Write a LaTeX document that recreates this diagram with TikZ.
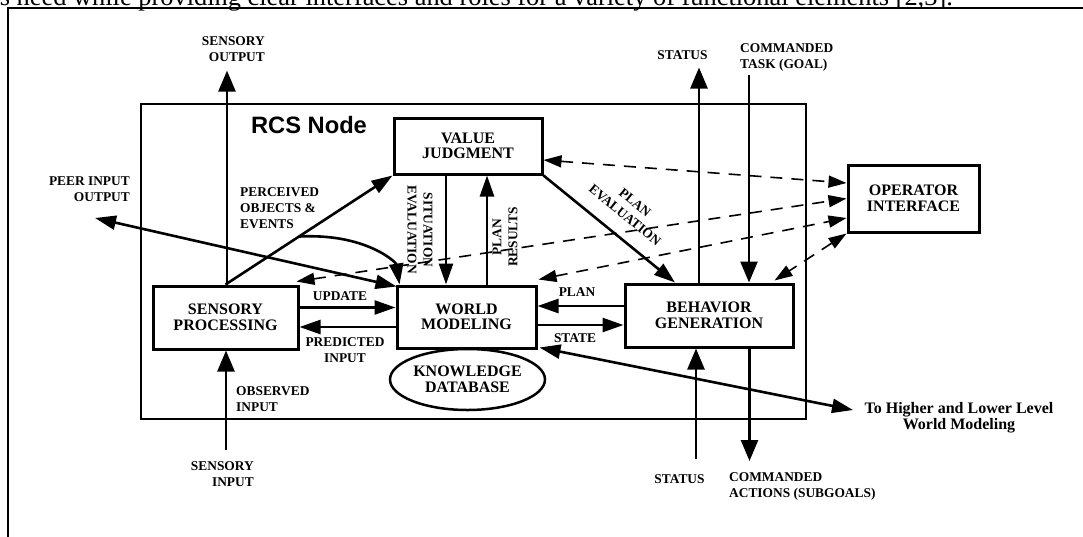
\documentclass[tikz,border=0pt]{standalone}
\usepackage{fontspec}
\setmainfont{Liberation Serif}
\newfontfamily\arialfont{Liberation Sans}
\usetikzlibrary{arrows.meta,shapes.geometric,calc}
\newcommand\boxfnt{\bfseries\fontsize{16}{15.5}\selectfont}
\newcommand\lblfnt{\bfseries\fontsize{13.4}{16}\selectfont}
\tikzset{
  box/.style={draw, line width=3pt, fill=white, align=center, font=\boxfnt, inner sep=0pt},
  lbl/.style={inner sep=0pt, font=\lblfnt},
  bigtip/.tip={Triangle[length=21pt,width=17pt]},
  medtip/.tip={Triangle[length=21pt,width=14pt]},
  smalltip/.tip={Triangle[length=18pt,width=12pt]},
  extarr/.style={line width=2.6pt, -bigtip},
  arr/.style={line width=2.6pt, -medtip},
  darr/.style={line width=2.6pt, medtip-medtip},
  dsh/.style={line width=1.6pt, dash pattern=on 12pt off 9pt, smalltip-smalltip}
}
\begin{document}
\begin{tikzpicture}[x=1pt,y=-1pt]
\useasboundingbox (0,0) rectangle (1083,536);
\clip (0,0) rectangle (1083,536);
% page text cut at top
\node[anchor=base east, inner sep=0pt, font=\fontsize{26.4}{29}\selectfont] (toptext) at (953,5) {s need while providing clear interfaces and roles for a variety of functional elements [2,3].};
% outer frame
\draw[line width=2pt] (8,540) -- (8,7.8) -- (1090,7.8);
% RCS node frame
\draw[line width=1.2pt] (141,104) rectangle (806,419);
\node[inner sep=0pt, font=\arialfont\bfseries\fontsize{23.7}{26}\selectfont] (rcs) at (309,125) {RCS Node};

% boxes
\node[box, minimum width=145pt, minimum height=63pt] (SP) at (225.5,317.5) {SENSORY\\PROCESSING};
\node[box, minimum width=139pt, minimum height=62pt] (WM) at (466.5,317) {WORLD\\MODELING};
\node[box, minimum width=148pt, minimum height=56pt] (VJ) at (468,146) {VALUE\\JUDGMENT};
\node[box, minimum width=131pt, minimum height=67pt] (OI) at (913.5,198.5) {OPERATOR\\INTERFACE};
\node[box, minimum width=168pt, minimum height=63pt] (BG) at (709,315.5) {BEHAVIOR\\GENERATION};
\node[box, ellipse, line width=2.5pt, minimum width=155pt, minimum height=61pt] (KD) at (467.5,379.5) {KNOWLEDGE\\DATABASE};

% coordinates for free ends
\coordinate (soTip) at (227,70.6);
\coordinate (stTop) at (699,67.5);
\coordinate (ctTop) at (749,75);
\coordinate (peer) at (95,218);
\coordinate (se) at (446,0);
\coordinate (pr) at (487,0);
\coordinate (pe) at (675,0);
\coordinate (up) at (0,307.5);
\coordinate (pi) at (0,327);
\coordinate (pl) at (0,306);
\coordinate (st) at (0,325);
\coordinate (hl) at (853,410);
\coordinate (sb) at (696,459);
\coordinate (ca) at (749.5,461);
\coordinate (si) at (226,450);

% external arrows
\draw[extarr] (soTip |- SP.north) -- (soTip);
\draw[extarr] (stTop |- BG.north) -- (stTop);
\draw[extarr] (ctTop) -- (ctTop |- BG.north);
\draw[extarr] (sb) -- (sb |- BG.south);
\draw[extarr] (ca |- BG.south) -- (ca);
\draw[extarr] (si) -- (si |- SP.south);
\draw[darr] (peer) -- ($(WM.north west)+(1,2)$);
\draw[darr] ($(WM.south east)+(2,-2)$) -- (hl);

% internal arrows
\draw[arr] (SP.north) -- (VJ.south west);
\coordinate (pc) at ($(SP.north)!0.44!(VJ.south west)$);
\draw[arr] (pc) .. controls (365,233) and (396,262) .. ($(WM.north west)+(4,0)$);
\draw[arr] (se |- VJ.south) -- (se |- WM.north);
\draw[arr] (pr |- WM.north) -- (pr |- VJ.south);
\draw[arr] (VJ.south east) -- (pe |- BG.north);
\draw[arr] (SP.east |- up) -- (WM.west |- up);
\draw[arr] (WM.west |- pi) -- (SP.east |- pi);
\draw[arr] (BG.west |- pl) -- (WM.east |- pl);
\draw[arr] (WM.east |- st) -- (BG.west |- st);

% dashed links to operator interface
\draw[dsh] ($(VJ.east)+(0,14)$) -- ($(OI.west)+(0,-15.5)$);
\draw[dsh] ($(SP.north east)+(-3,-3)$) -- (OI.west);
\draw[dsh] ($(WM.north east)+(1,-5)$) -- ($(OI.west)+(0,19.5)$);
\draw[dsh] (OI.south west) -- ($(BG.north east)+(-20,-2)$);

% labels
\node[lbl, anchor=east, align=right] (lso) at (265,49) {SENSORY\\OUTPUT};
\node[lbl] (lst) at (682.5,55) {STATUS};
\node[lbl, anchor=west, align=left] (lct) at (740,57) {COMMANDED\\TASK (GOAL)};
\node[lbl, anchor=east, align=right] (lpeer) at (130,189) {PEER INPUT\\OUTPUT};
\node[lbl, anchor=west, align=left] (lpo) at (240,208) {PERCEIVED\\OBJECTS \&\\EVENTS};
\node[lbl, align=center, rotate=-90] (lse) at (420,230) {SITUATION\\EVALUATION};
\node[lbl, align=center, rotate=90] (lpr) at (505,237) {PLAN\\RESULTS};
\node[lbl, align=center, rotate=-39] (lpe) at (630,209) {PLAN\\EVALUATION};
\node[lbl] (lup) at (340,296) {UPDATE};
\node[lbl, align=center] (lpi) at (345,350) {PREDICTED\\INPUT};
\node[lbl] (lpl) at (577,292) {PLAN};
\node[lbl] (lsta) at (575,338) {STATE};
\node[inner sep=0pt, align=center, font=\bfseries\fontsize{16}{16}\selectfont] (lhl) at (959,418) {To Higher and Lower Level\\World Modeling};
\node[lbl] (lsb) at (679.5,479) {STATUS};
\node[lbl, anchor=west, align=left] (lca) at (729,486) {COMMANDED\\ACTIONS (SUBGOALS)};
\node[lbl, anchor=east, align=right] (lsi) at (254,474) {SENSORY\\INPUT};
\node[lbl, anchor=west, align=left] (loi) at (236,399) {OBSERVED\\INPUT};
\end{tikzpicture}
\end{document}
